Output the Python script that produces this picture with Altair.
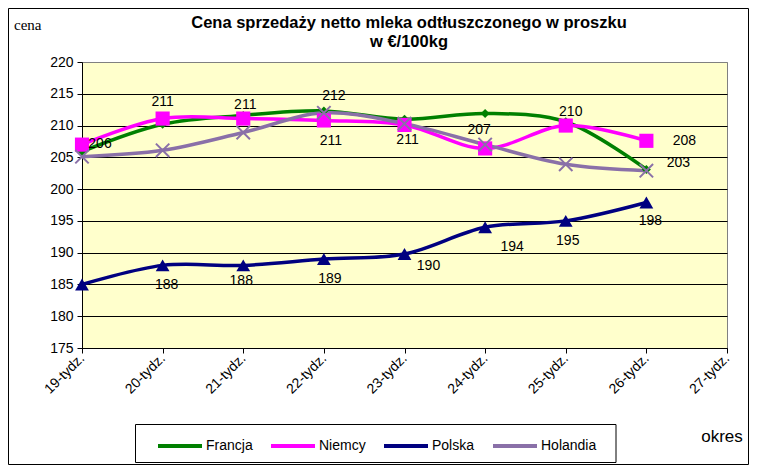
import altair as alt
import pandas as pd

weeks = ["19-tydz.", "20-tydz.", "21-tydz.", "22-tydz.", "23-tydz.",
         "24-tydz.", "25-tydz.", "26-tydz.", "27-tydz."]
data_weeks = weeks[:8]

series_names = ["Francja", "Niemcy", "Polska", "Holandia"]
series_colors = ["#008000", "#FF00FF", "#000080", "#8A70A8"]

francja = [205.9, 210.2, 211.6, 212.3, 211.0, 211.9, 210.6, 203.1]
niemcy = [207.0, 211.1, 211.1, 210.8, 210.1, 206.4, 210.0, 207.6]
polska = [185.0, 188.0, 188.0, 189.0, 189.8, 194.0, 195.0, 197.9]
holandia = [205.1, 206.1, 208.9, 212.0, 210.3, 207.0, 203.9, 202.9]

# data labels: week, anchor value, text, pixel offsets
label_weeks = ["19-tydz.", "20-tydz.", "21-tydz.", "22-tydz.", "22-tydz.", "23-tydz.",
               "24-tydz.", "25-tydz.", "26-tydz.", "26-tydz.",
               "20-tydz.", "21-tydz.", "22-tydz.", "23-tydz.", "24-tydz.", "25-tydz.", "26-tydz."]
label_values = [205.9, 211.1, 211.1, 212.3, 210.8, 210.1,
                207.0, 210.0, 207.6, 203.1,
                188.0, 188.0, 189.0, 189.8, 194.0, 195.0, 197.9]
label_texts = ["206", "211", "211", "212", "211", "211",
               "207", "210", "208", "203",
               "188", "188", "189", "190", "194", "195", "198"]
label_dx = [18, 0, 2, 10, 7, 3, -6, 5, 38, 32, 4, -2, 6, 24, 27, 2, 4]
label_dy = [-8, -17, -14, -15, 21, 15, -15, -14, 0, -6, 20, 16, 20, 12, 20, 20, 19]

FONT = "Liberation Sans"
W, H = 645, 286
PAD_L, PAD_T, PAD_R, PAD_B = 74, 54, 22, 117

rows = []
for name, vals in zip(series_names, [francja, niemcy, polska, holandia]):
    for w, v in zip(data_weeks, vals):
        rows.append({"week": w, "value": v, "series": name})
df = pd.DataFrame(rows)

x_enc = alt.X("week:N", sort=weeks,
              scale=alt.Scale(type="point", domain=weeks, padding=0),
              axis=alt.Axis(title=None, labelAngle=-45, labelFont=FONT, labelFontSize=14,
                            labelAlign="right", labelBaseline="middle",
                            labelColor="black", domainColor="black", tickColor="black",
                            tickSize=5, grid=False, labelPadding=3))
y_enc = alt.Y("value:Q",
              scale=alt.Scale(domain=[175, 220], nice=False, zero=False),
              axis=alt.Axis(title=None, values=list(range(175, 221, 5)), labelFont=FONT,
                            labelFontSize=14, labelColor="black", domainColor="black",
                            tickColor="black", tickSize=5, labelPadding=4,
                            grid=True,
                            gridColor={"condition": {"test": "datum.value == 220", "value": "#808080"},
                                       "value": "black"},
                            gridOpacity=1, gridWidth=1))

lines = alt.Chart(df).mark_line(interpolate="catmull-rom", strokeWidth=3.5).encode(
    x=x_enc, y=y_enc,
    color=alt.Color("series:N", sort=series_names,
                    scale=alt.Scale(domain=series_names, range=series_colors),
                    legend=alt.Legend(title=None, orient="none", legendX=74, legendY=360,
                                      direction="horizontal", symbolType="stroke",
                                      symbolStrokeWidth=4, symbolSize=1936,
                                      labelFont=FONT, labelFontSize=14, labelColor="black",
                                      padding=0, columnPadding=10, labelOffset=2))
)

shapes = ["diamond", "square", "triangle-up", "M-1,-1L1,1M-1,1L1,-1"]
sizes = [80, 200, 190, 180]
point_layers = []
for name, col, shp, sz in zip(series_names, series_colors, shapes, sizes):
    sub = df[df["series"] == name]
    if name == "Holandia":
        m = alt.Chart(sub).mark_point(shape=shp, size=sz, color=col, filled=False,
                                      strokeWidth=2, opacity=1)
    else:
        m = alt.Chart(sub).mark_point(shape=shp, size=sz, color=col, filled=True, opacity=1)
    point_layers.append(m.encode(x=x_enc, y=y_enc))

label_layers = []
for w, v, t, dx, dy in zip(label_weeks, label_values, label_texts, label_dx, label_dy):
    ld = pd.DataFrame({"week": [w], "value": [v], "t": [t]})
    label_layers.append(
        alt.Chart(ld).mark_text(font=FONT, fontSize=14, color="black", dx=dx, dy=dy,
                                baseline="middle", align="center")
        .encode(x=x_enc, y=y_enc, text="t:N"))

one = pd.DataFrame({"a": [0]})
title1 = alt.Chart(one).mark_text(font=FONT, fontSize=16.5, fontWeight="bold", color="black",
                                  align="center", baseline="middle").encode(
    x=alt.value(327), y=alt.value(-39), text=alt.value("Cena sprzedaży netto mleka  odtłuszczonego w proszku"))
title2 = alt.Chart(one).mark_text(font=FONT, fontSize=16.5, fontWeight="bold", color="black",
                                  align="center", baseline="middle").encode(
    x=alt.value(327), y=alt.value(-20), text=alt.value("w €/100kg"))
cena = alt.Chart(one).mark_text(font="Liberation Serif", fontSize=15, color="black",
                                align="left", baseline="middle").encode(
    x=alt.value(-68), y=alt.value(-37), text=alt.value("cena"))
okres = alt.Chart(one).mark_text(font=FONT, fontSize=17, color="black",
                                 align="center", baseline="middle").encode(
    x=alt.value(640), y=alt.value(375), text=alt.value("okres"))
legend_box = alt.Chart(one).mark_rect(fill="white", stroke="black", strokeWidth=1).encode(
    x=alt.value(53.5), x2=alt.value(534), y=alt.value(362.5), y2=alt.value(400.5))
border = alt.Chart(one).mark_rect(fill=None, stroke="black", strokeWidth=1).encode(
    x=alt.value(-PAD_L + 0.5), x2=alt.value(W + PAD_R - 0.5),
    y=alt.value(-PAD_T + 0.5), y2=alt.value(H + PAD_B - 0.5))

chart = alt.layer(legend_box, lines, *point_layers, *label_layers, title1, title2, cena, okres, border).properties(
    width=W, height=H,
    autosize=alt.AutoSizeParams(type="none"),
    padding={"left": PAD_L, "top": PAD_T, "right": PAD_R, "bottom": PAD_B},
    background="white",
).configure_view(fill="#FFFFCC", stroke="#808080", strokeWidth=1)

chart.save("out.html", embed_options={"renderer": "svg", "actions": False})
